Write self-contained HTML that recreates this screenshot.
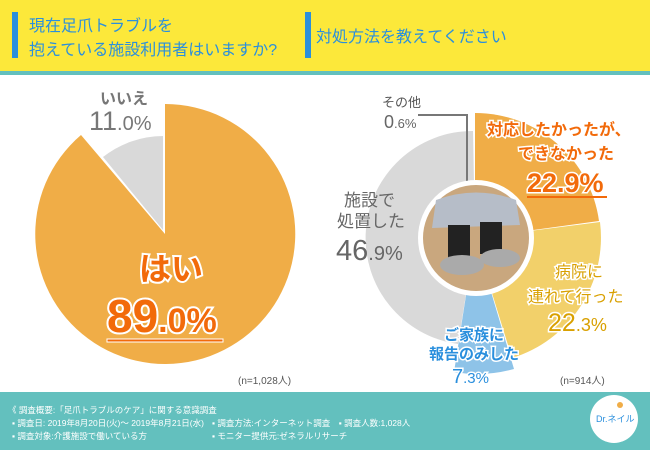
<!DOCTYPE html>
<html><head><meta charset="utf-8"><style>
html,body{margin:0;padding:0;}
body{width:650px;height:450px;overflow:hidden;background:#fff;font-family:"Liberation Sans","Noto Sans CJK JP",sans-serif;}
</style></head><body>
<svg width="650" height="450" viewBox="0 0 650 450" xmlns="http://www.w3.org/2000/svg" style="display:block;font-family:'Liberation Sans','Noto Sans CJK JP',sans-serif">
<rect x="0" y="0" width="650" height="71" fill="#fce83a"/>
<rect x="0" y="71" width="650" height="4" fill="#63c0be"/>
<rect x="12" y="12" width="6" height="46" fill="#2a8fdd"/>
<rect x="305" y="12" width="6" height="46" fill="#2a8fdd"/>
<text x="29" y="31" font-size="16" fill="#2a8fdd">現在足爪トラブルを</text>
<text x="29" y="55" font-size="16" fill="#2a8fdd">抱えている施設利用者はいますか?</text>
<text x="316" y="42" font-size="16" fill="#2a8fdd">対処方法を教えてください</text>

<path d="M165,234 L165,104 A130,130 0 1 1 81,135 Z" fill="#f0ad47"/>
<path d="M163,230 L163,136 A98,98 0 0 0 103,157 Z" fill="#d9d9d9"/>
<text x="100" y="104" font-size="16" font-weight="bold" fill="#777">いいえ</text>
<text x="89" y="130" font-size="27" fill="#777">11<tspan font-size="20">.0%</tspan></text>
<text x="139" y="280" font-size="32" font-weight="bold" fill="#f26a0a" stroke="#fff" stroke-width="4" paint-order="stroke">はい</text>
<text x="107" y="332" font-size="46" font-weight="bold" fill="#f26a0a" stroke="#fff" stroke-width="4" paint-order="stroke">89<tspan font-size="34">.0%</tspan></text>
<rect x="107" y="339" width="116" height="3" fill="#f26a0a" stroke="#fff" stroke-width="1"/>
<text x="238" y="384" font-size="10" fill="#555">(n=1,028人)</text>

<path d="M475,238 L475,113 A125,125 0 0 1 599,221 Z" fill="#f0ad47"/>
<path d="M475,238 L600,222 A126,126 0 0 1 512,358 Z" fill="#f2d06a"/>
<path d="M475,238 L514,369 A136,136 0 0 1 454,372 Z" fill="#8ec3e8"/>
<path d="M475,238 L458,344 A107,107 0 0 1 473,131 Z" fill="#d9d9d9"/>
<polyline points="467,215 467,115 418,115" fill="none" stroke="#777" stroke-width="2"/>
<circle cx="476" cy="238" r="58" fill="#fff"/>
<circle cx="476" cy="238" r="53" fill="#c9a77e"/>
<path d="M436,200 Q476,185 516,200 L520,225 L432,228 Z" fill="#b6bdc8"/>
<rect x="448" y="225" width="22" height="35" fill="#222"/>
<rect x="480" y="222" width="22" height="32" fill="#222"/>
<ellipse cx="462" cy="265" rx="22" ry="10" fill="#aaa"/>
<ellipse cx="500" cy="258" rx="20" ry="9" fill="#aaa"/>
<text x="382" y="107" font-size="13" fill="#555">その他</text>
<text x="384" y="128" font-size="18" fill="#666">0<tspan font-size="13">.6%</tspan></text>
<text x="487" y="135" font-size="16" font-weight="bold" fill="#f26a0a" stroke="#fff" stroke-width="3" paint-order="stroke">対応したかったが、</text>
<text x="518" y="159" font-size="16" font-weight="bold" fill="#f26a0a" stroke="#fff" stroke-width="3" paint-order="stroke">できなかった</text>
<text x="527" y="192" font-size="27" font-weight="bold" fill="#f26a0a" stroke="#fff" stroke-width="3" paint-order="stroke">22.9%</text>
<rect x="527" y="196" width="80" height="2" fill="#f26a0a"/>
<text x="344" y="206" font-size="17" fill="#666">施設で</text>
<text x="337" y="227" font-size="17" fill="#666">処置した</text>
<text x="336" y="260" font-size="29" fill="#666">46<tspan font-size="20">.9%</tspan></text>
<text x="555" y="277" font-size="16" fill="#d9a000" stroke="#fff" stroke-width="3" paint-order="stroke">病院に</text>
<text x="528" y="302" font-size="16" fill="#d9a000" stroke="#fff" stroke-width="3" paint-order="stroke">連れて行った</text>
<text x="548" y="331" font-size="25" fill="#d9a000" stroke="#fff" stroke-width="3" paint-order="stroke">22<tspan font-size="18">.3%</tspan></text>
<text x="444" y="340" font-size="15" font-weight="bold" fill="#2a8fdd" stroke="#fff" stroke-width="3" paint-order="stroke">ご家族に</text>
<text x="429" y="359" font-size="15" font-weight="bold" fill="#2a8fdd" stroke="#fff" stroke-width="3" paint-order="stroke">報告のみした</text>
<text x="452" y="383" font-size="20" fill="#2a8fdd" stroke="#fff" stroke-width="3" paint-order="stroke">7<tspan font-size="15">.3%</tspan></text>
<text x="560" y="384" font-size="10" fill="#555">(n=914人)</text>

<rect x="0" y="392" width="650" height="58" fill="#63c0be"/>
<text x="8" y="413" font-size="8.5" fill="#fff">《 調査概要:「足爪トラブルのケア」に関する意識調査</text>
<text x="12" y="426" font-size="8.5" fill="#fff">▪ 調査日: 2019年8月20日(火)～ 2019年8月21日(水)</text>
<text x="212" y="426" font-size="8.5" fill="#fff">▪ 調査方法:インターネット調査　▪ 調査人数:1,028人</text>
<text x="12" y="439" font-size="8.5" fill="#fff">▪ 調査対象:介護施設で働いている方</text>
<text x="212" y="439" font-size="8.5" fill="#fff">▪ モニター提供元:ゼネラルリサーチ</text>
<circle cx="614" cy="419" r="24" fill="#fff"/>
<text x="596" y="422" font-size="9" fill="#2a8fdd">Dr.ネイル</text>
<circle cx="620" cy="405" r="3" fill="#f0ad47"/>
</svg>
</body></html>
